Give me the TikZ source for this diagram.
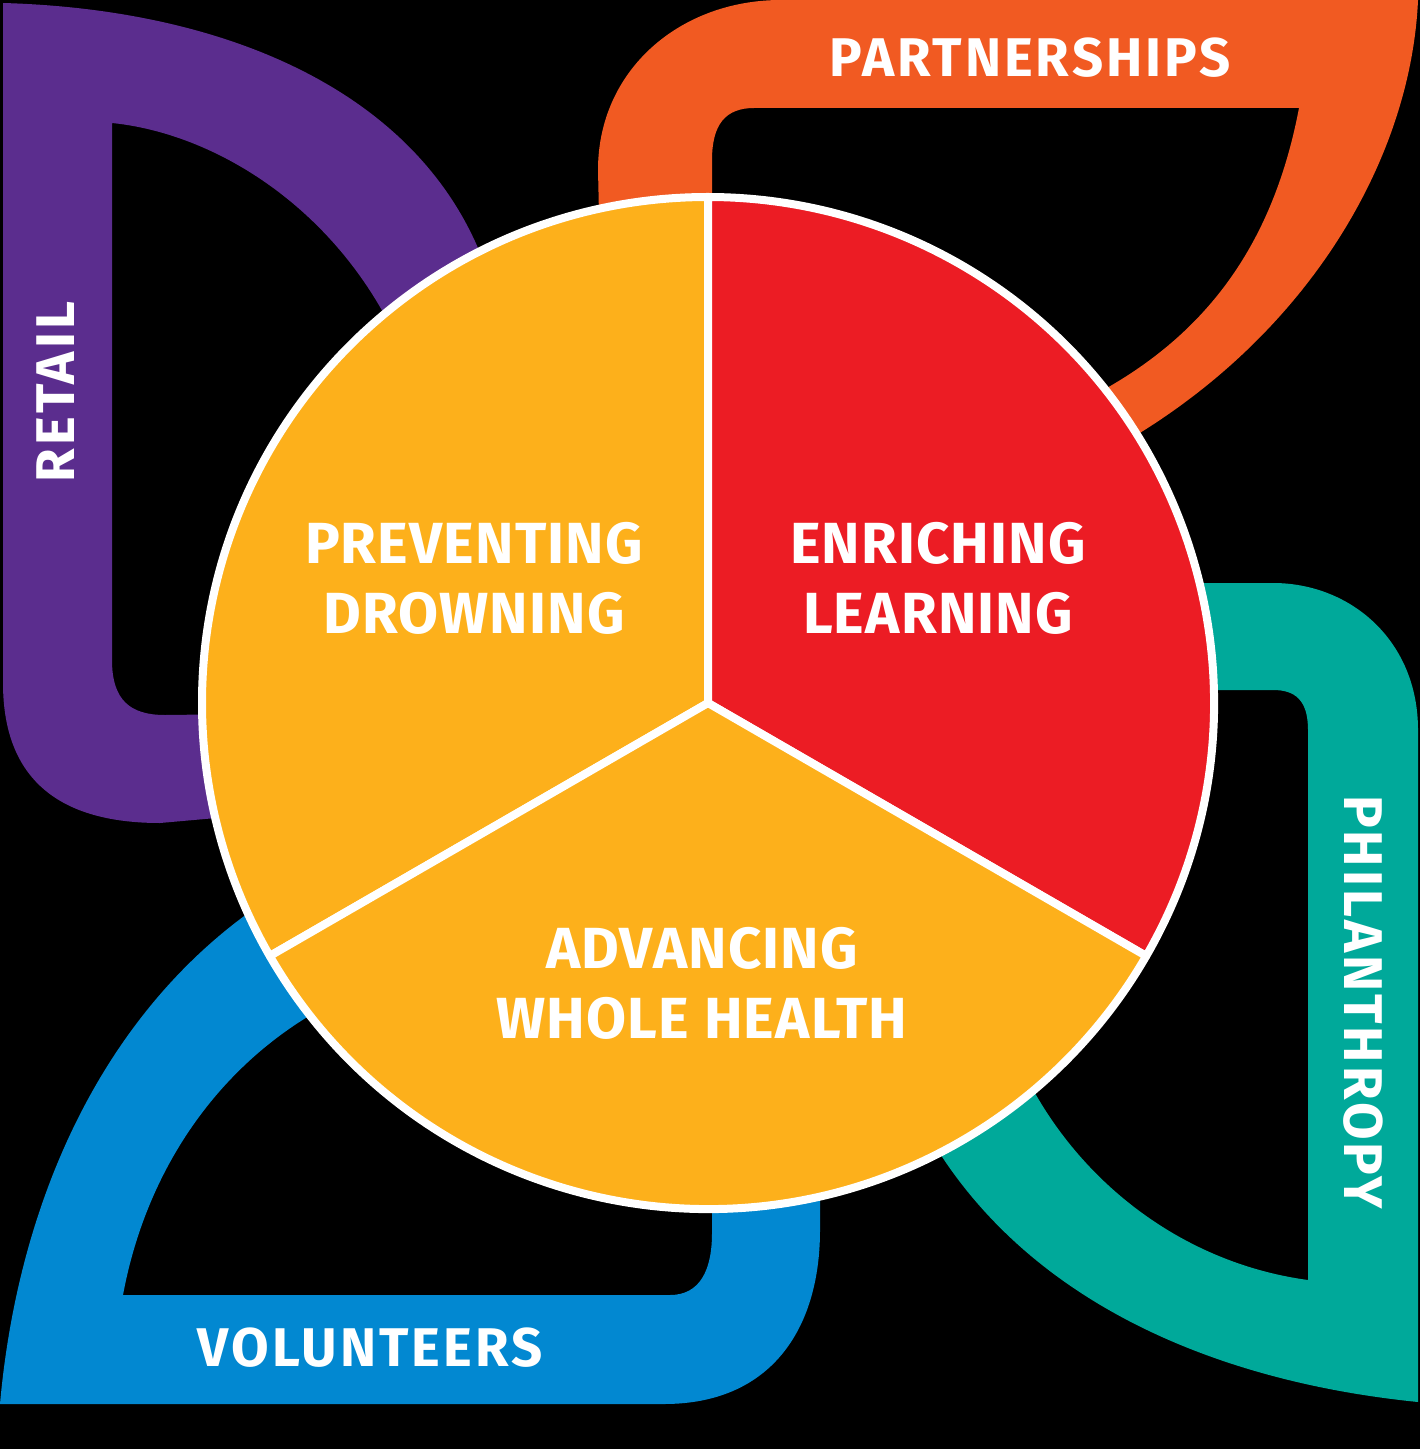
\documentclass[tikz,border=0pt]{standalone}
\usepackage{fontspec}
\setmainfont{Fira Sans}
\usepackage{xcolor}
\definecolor{retailpurple}{HTML}{5B2D8E}
\definecolor{partorange}{HTML}{F15A22}
\definecolor{philteal}{HTML}{00A99A}
\definecolor{volblue}{HTML}{0288D1}
\definecolor{pieyellow}{HTML}{FDB01B}
\definecolor{piered}{HTML}{EC1C24}
\tikzset{
  leaf/.style    = {even odd rule, draw=none},
  slice/.style   = {draw=white, line width=0.08cm, line join=round},
  bandtxt/.style = {text=white, inner sep=0pt,
                    font=\fontsize{15.5}{18}\selectfont\bfseries\addfontfeature{LetterSpace=5.5}},
  pietxt/.style  = {text=white, align=center, inner sep=0pt,
                    font=\fontsize{16.5}{19.9}\selectfont\bfseries\addfontfeature{LetterSpace=2}},
}

\begin{document}
\begin{tikzpicture}[x=0.01cm,y=-0.01cm]
\fill[black] (0,0) rectangle (1420,1449);
% leaves behind the circle
\fill[leaf,retailpurple] (3,3) .. controls (250,10) and (460,110) .. (500,320) -- (250,815) -- (160,823)
  .. controls (60,823) and (3,780) .. (3,683) -- cycle
  (112,123) .. controls (230,135) and (370,230) .. (420,400) -- (250,714) -- (165,715)
  .. controls (130,715) and (112,700) .. (112,660) -- cycle;
\fill[leaf,partorange] (1418,0) -- (781,0) .. controls (680,0) and (598,70) .. (598,170) -- (600,260) -- (1050,480)
  .. controls (1280,380) and (1410,180) .. (1418,0) -- cycle
  (1299,108) -- (754,108) .. controls (725,108) and (712,125) .. (712,160) -- (712,300) -- (1040,420)
  .. controls (1190,360) and (1270,260) .. (1299,108) -- cycle;
\fill[leaf,philteal] (1418,1402) -- (1418,730) .. controls (1418,640) and (1350,583) .. (1273,583) -- (1150,583) -- (910,1100)
  .. controls (1000,1290) and (1200,1380) .. (1418,1402) -- cycle
  (1308,1280) -- (1308,730) .. controls (1308,700) and (1295,690) .. (1273,690) -- (1180,690) -- (1000,1010)
  .. controls (1040,1150) and (1160,1260) .. (1308,1280) -- cycle;
\fill[leaf,volblue] (0,1404) -- (664,1404) .. controls (770,1404) and (820,1330) .. (820,1230) -- (820,1150) -- (300,880)
  .. controls (120,980) and (20,1180) .. (0,1404) -- cycle
  (123,1295) -- (670,1295) .. controls (700,1295) and (712,1270) .. (712,1233) -- (712,1150) -- (360,990)
  .. controls (240,1040) and (150,1150) .. (123,1295) -- cycle;
% the circle in three slices
\begin{scope}[shift={(708,703)},y=0.01cm]
  \filldraw[slice,fill=pieyellow] (0,0) -- (90:506) arc[start angle=90, end angle=210, radius=506] -- cycle;
  \filldraw[slice,fill=piered] (0,0) -- (-30:506) arc[start angle=-30, end angle=90, radius=506] -- cycle;
  \filldraw[slice,fill=pieyellow] (0,0) -- (210:506) arc[start angle=210, end angle=330, radius=506] -- cycle;
\end{scope}
\node[pietxt] (drown) at (474,578) {PREVENTING\\DROWNING};
\node[pietxt] (learn) at (938,578) {ENRICHING\\LEARNING};
\node[pietxt] (health) at (702,983) {ADVANCING\\WHOLE HEALTH};
\node[bandtxt,rotate=90] (retail) at (56,392) {RETAIL};
\node[bandtxt] (partner) at (1030,58) {PARTNERSHIPS};
\node[bandtxt,rotate=-90] (phil) at (1363,1002) {PHILANTHROPY};
\node[bandtxt] (volunteer) at (370,1348) {VOLUNTEERS};
\end{tikzpicture}
\end{document}
